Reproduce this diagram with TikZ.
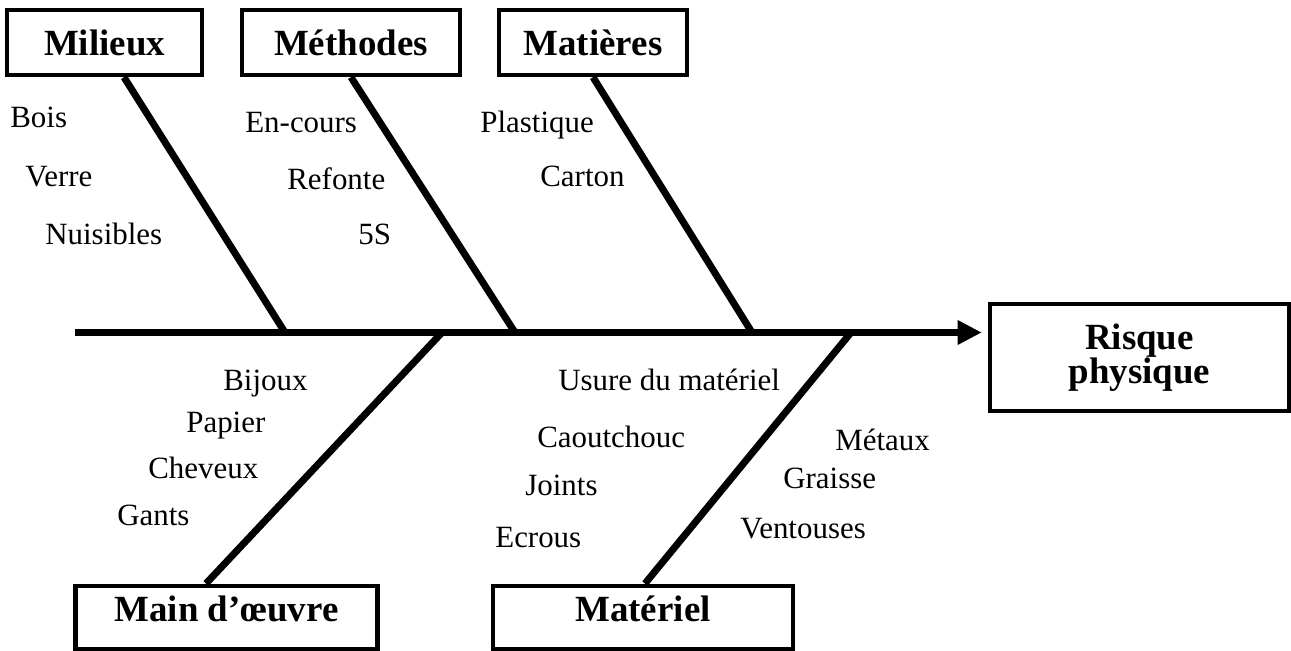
\documentclass[tikz,border=0pt]{standalone}
\usepackage{fontspec}
\setmainfont{Liberation Serif}
\usetikzlibrary{arrows.meta,calc}

\begin{document}
\begin{tikzpicture}[
  cat/.style={draw,line width=2.5pt,minimum height=1.3cm,inner sep=0pt,
    font=\fontsize{21}{19.4}\selectfont\bfseries},
  catlow/.style={cat,minimum height=1.27cm,text height=14.7pt,text depth=9.6pt},
  cause/.style={anchor=base west,inner sep=0pt,font=\fontsize{17.6}{21}\selectfont},
  bone/.style={line width=4pt},
  spine/.style={-{Triangle[length=13.7pt,width=13.1pt]},line width=4.5pt}]
\useasboundingbox (0,0) rectangle (25.82,-13.02);
% categories
\node[cat,minimum width=3.9cm] (milieux) at (2.09,-0.85) {Milieux};
\node[cat,minimum width=4.36cm] (methodes) at (7.02,-0.85) {Méthodes};
\node[cat,minimum width=3.75cm] (matieres) at (11.86,-0.85) {Matières};
\node[catlow,minimum width=6.04cm] (oeuvre) at (4.53,-12.35) {Main d’œuvre};
\node[catlow,minimum width=6cm] (materiel) at (12.86,-12.35) {Matériel};
\node[cat,minimum width=5.98cm,minimum height=2.14cm,align=center] (risk) at (22.79,-7.15) {Risque\\physique};
% spine and bones
\coordinate (tail) at (1.5,-6.65);
\coordinate (j1) at (5.70,-6.65);
\coordinate (j2) at (10.30,-6.65);
\coordinate (j3) at (15.04,-6.65);
\coordinate (j4) at (8.84,-6.65);
\coordinate (j5) at (17.02,-6.65);
\draw[bone] ([xshift=0.39cm]milieux.south) -- (j1);
\draw[bone] (methodes.south) -- (j2);
\draw[bone] (matieres.south) -- (j3);
\draw[bone] (j4) -- ([xshift=-0.41cm]oeuvre.north);
\draw[bone] (j5) -- ([xshift=0.04cm]materiel.north);
\draw[spine,shorten >=0.12cm] (tail) -- (tail -| risk.west);
% causes
\node[cause] (bois) at (0.20,-2.56) {Bois};
\node[cause] (verre) at (0.50,-3.74) {Verre};
\node[cause] (nuisibles) at (0.90,-4.90) {Nuisibles};
\node[cause] (encours) at (4.90,-2.66) {En-cours};
\node[cause] (refonte) at (5.74,-3.80) {Refonte};
\node[cause] (cinqs) at (7.16,-4.90) {5S};
\node[cause] (plastique) at (9.60,-2.66) {Plastique};
\node[cause] (carton) at (10.80,-3.74) {Carton};
\node[cause] (bijoux) at (4.46,-7.80) {Bijoux};
\node[cause] (papier) at (3.72,-8.64) {Papier};
\node[cause] (cheveux) at (2.96,-9.56) {Cheveux};
\node[cause] (gants) at (2.34,-10.50) {Gants};
\node[cause] (usure) at (11.16,-7.80) {Usure du matériel};
\node[cause] (caoutchouc) at (10.74,-8.94) {Caoutchouc};
\node[cause] (joints) at (10.50,-9.90) {Joints};
\node[cause] (ecrous) at (9.90,-10.94) {Ecrous};
\node[cause] (metaux) at (16.70,-9.00) {Métaux};
\node[cause] (graisse) at (15.66,-9.76) {Graisse};
\node[cause] (ventouses) at (14.80,-10.76) {Ventouses};
\end{tikzpicture}
\end{document}
